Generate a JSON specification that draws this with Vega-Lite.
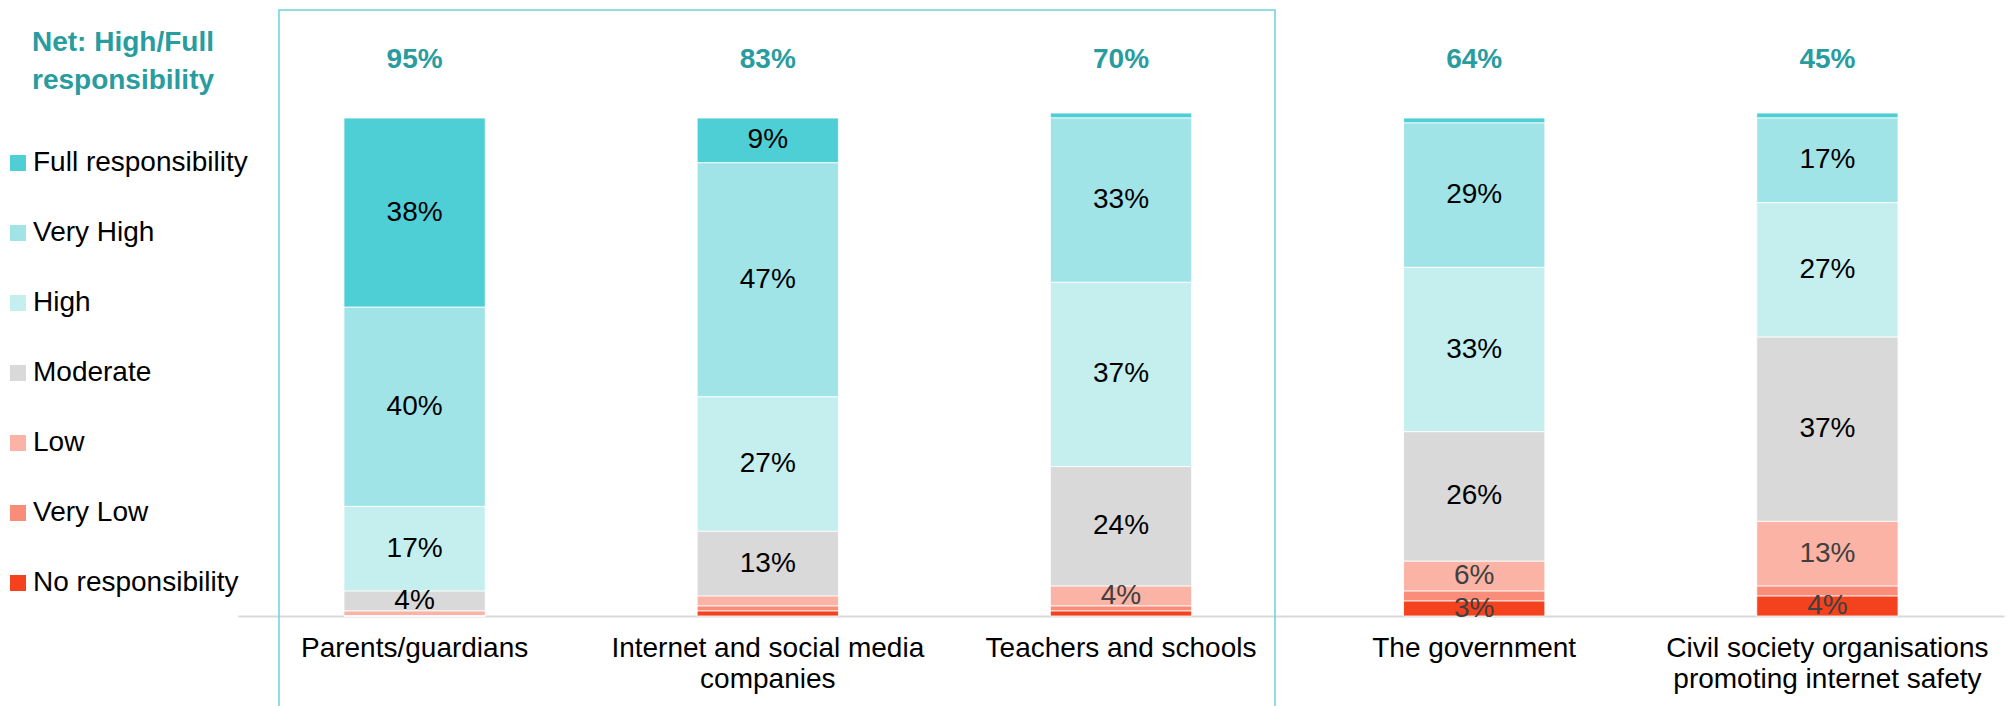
{
  "$schema": "https://vega.github.io/schema/vega-lite/v6.json",
  "width": 1766,
  "height": 608,
  "autosize": {"type": "none"},
  "padding": {"left": 238, "top": 8, "right": 4, "bottom": 90},
  "config": {
    "font": "Liberation Sans",
    "view": {"stroke": null},
    "legend": {"padding": 0}
  },
  "datasets": {
    "bars": [
      {"category": "Parents/guardians", "level": "Full responsibility", "rank": 7, "value": 0.38},
      {"category": "Parents/guardians", "level": "Very High", "rank": 6, "value": 0.40},
      {"category": "Parents/guardians", "level": "High", "rank": 5, "value": 0.17},
      {"category": "Parents/guardians", "level": "Moderate", "rank": 4, "value": 0.04},
      {"category": "Parents/guardians", "level": "Low", "rank": 3, "value": 0.01},
      {"category": "Parents/guardians", "level": "Very Low", "rank": 2, "value": 0.0},
      {"category": "Parents/guardians", "level": "No responsibility", "rank": 1, "value": 0.0},
      {"category": "Internet and social media companies", "level": "Full responsibility", "rank": 7, "value": 0.09},
      {"category": "Internet and social media companies", "level": "Very High", "rank": 6, "value": 0.47},
      {"category": "Internet and social media companies", "level": "High", "rank": 5, "value": 0.27},
      {"category": "Internet and social media companies", "level": "Moderate", "rank": 4, "value": 0.13},
      {"category": "Internet and social media companies", "level": "Low", "rank": 3, "value": 0.02},
      {"category": "Internet and social media companies", "level": "Very Low", "rank": 2, "value": 0.01},
      {"category": "Internet and social media companies", "level": "No responsibility", "rank": 1, "value": 0.01},
      {"category": "Teachers and schools", "level": "Full responsibility", "rank": 7, "value": 0.01},
      {"category": "Teachers and schools", "level": "Very High", "rank": 6, "value": 0.33},
      {"category": "Teachers and schools", "level": "High", "rank": 5, "value": 0.37},
      {"category": "Teachers and schools", "level": "Moderate", "rank": 4, "value": 0.24},
      {"category": "Teachers and schools", "level": "Low", "rank": 3, "value": 0.04},
      {"category": "Teachers and schools", "level": "Very Low", "rank": 2, "value": 0.01},
      {"category": "Teachers and schools", "level": "No responsibility", "rank": 1, "value": 0.01},
      {"category": "The government", "level": "Full responsibility", "rank": 7, "value": 0.01},
      {"category": "The government", "level": "Very High", "rank": 6, "value": 0.29},
      {"category": "The government", "level": "High", "rank": 5, "value": 0.33},
      {"category": "The government", "level": "Moderate", "rank": 4, "value": 0.26},
      {"category": "The government", "level": "Low", "rank": 3, "value": 0.06},
      {"category": "The government", "level": "Very Low", "rank": 2, "value": 0.02},
      {"category": "The government", "level": "No responsibility", "rank": 1, "value": 0.03},
      {"category": "Civil society organisations promoting internet safety", "level": "Full responsibility", "rank": 7, "value": 0.01},
      {"category": "Civil society organisations promoting internet safety", "level": "Very High", "rank": 6, "value": 0.17},
      {"category": "Civil society organisations promoting internet safety", "level": "High", "rank": 5, "value": 0.27},
      {"category": "Civil society organisations promoting internet safety", "level": "Moderate", "rank": 4, "value": 0.37},
      {"category": "Civil society organisations promoting internet safety", "level": "Low", "rank": 3, "value": 0.13},
      {"category": "Civil society organisations promoting internet safety", "level": "Very Low", "rank": 2, "value": 0.02},
      {"category": "Civil society organisations promoting internet safety", "level": "No responsibility", "rank": 1, "value": 0.04}
    ],
    "net": [
      {"category": "Parents/guardians", "net": 0.95},
      {"category": "Internet and social media companies", "net": 0.83},
      {"category": "Teachers and schools", "net": 0.70},
      {"category": "The government", "net": 0.64},
      {"category": "Civil society organisations promoting internet safety", "net": 0.45}
    ],
    "box": [
      {"x0": 0.116, "x1": 2.936, "y0": -0.2, "y1": 1.2169}
    ]
  },
  "layer": [
    {
      "data": {"name": "box"},
      "mark": {"type": "rect", "filled": false, "color": "#6CD3D9", "strokeWidth": 1.5, "clip": false},
      "encoding": {
        "x": {"field": "x0", "type": "quantitative", "scale": {"domain": [0, 5], "nice": false, "zero": false}, "axis": null},
        "x2": {"field": "x1"},
        "y": {"field": "y0", "type": "quantitative", "scale": {"domain": [0, 1.2209], "nice": false, "zero": true}, "axis": null},
        "y2": {"field": "y1"}
      }
    },
    {
      "encoding": {
        "x": {
          "field": "category",
          "type": "nominal",
          "sort": ["Parents/guardians", "Internet and social media companies", "Teachers and schools", "The government", "Civil society organisations promoting internet safety"],
          "scale": {"paddingInner": 0.6, "paddingOuter": 0.3},
          "axis": {
            "title": null,
            "labelAngle": 0,
            "labelFontSize": 28,
            "labelColor": "#000000",
            "labelPadding": 18,
            "labelLineHeight": 31,
            "labelLimit": 500,
            "ticks": false,
            "domainColor": "#D9D9D9",
            "domainWidth": 2,
            "labelExpr": "datum.label == 'Internet and social media companies' ? ['Internet and social media', 'companies'] : datum.label == 'Civil society organisations promoting internet safety' ? ['Civil society organisations', 'promoting internet safety'] : datum.label"
          }
        }
      },
      "layer": [
        {
          "data": {"name": "bars"},
          "mark": {"type": "bar", "stroke": "#ffffff", "strokeWidth": 0.8},
          "encoding": {
            "y": {"field": "value", "type": "quantitative", "stack": "zero", "scale": {"domain": [0, 1.2209], "nice": false, "zero": true}, "axis": null},
            "order": {"field": "rank", "type": "quantitative"},
            "color": {
              "field": "level",
              "type": "nominal",
              "scale": {
                "domain": ["Full responsibility", "Very High", "High", "Moderate", "Low", "Very Low", "No responsibility"],
                "range": ["#4ECFD6", "#A0E4E8", "#C5EFEF", "#D9D9D9", "#FBB3A5", "#F98D7A", "#F5421E"]
              },
              "legend": {
                "title": ["Net: High/Full", "responsibility"],
                "orient": "none",
                "legendX": -206,
                "legendY": 21,
                "symbolType": "square",
                "symbolSize": 256,
                "symbolStrokeWidth": 0,
                "labelFontSize": 28,
                "labelColor": "#000000",
                "labelLimit": 400,
                "titleFontSize": 28,
                "titleFontWeight": "bold",
                "titleColor": "#289C9E",
                "titleLineHeight": 38,
                "titleLimit": 400,
                "titlePadding": 54,
                "rowPadding": 42,
                "labelOffset": 1,
                "symbolOffset": -28
              }
            }
          }
        },
        {
          "data": {"name": "bars"},
          "mark": {"type": "text", "fontSize": 28, "baseline": "middle", "align": "center"},
          "encoding": {
            "y": {"field": "value", "type": "quantitative", "stack": "zero", "bandPosition": 0.5},
            "order": {"field": "rank", "type": "quantitative"},
            "text": {
              "condition": {"test": "datum.value < 0.025", "value": ""},
              "field": "value",
              "type": "quantitative",
              "format": ".0%"
            },
            "color": {
              "condition": {"test": "datum.level == 'Low' || datum.level == 'Very Low' || datum.level == 'No responsibility'", "value": "#404040"},
              "value": "#000000"
            }
          }
        },
        {
          "data": {"name": "net"},
          "mark": {"type": "text", "fontSize": 28, "fontWeight": "bold", "color": "#289C9E", "baseline": "alphabetic", "align": "center"},
          "encoding": {
            "y": {"datum": 1.1, "type": "quantitative"},
            "text": {"field": "net", "type": "quantitative", "format": ".0%"}
          }
        }
      ]
    }
  ],
  "resolve": {"scale": {"x": "independent"}}
}
